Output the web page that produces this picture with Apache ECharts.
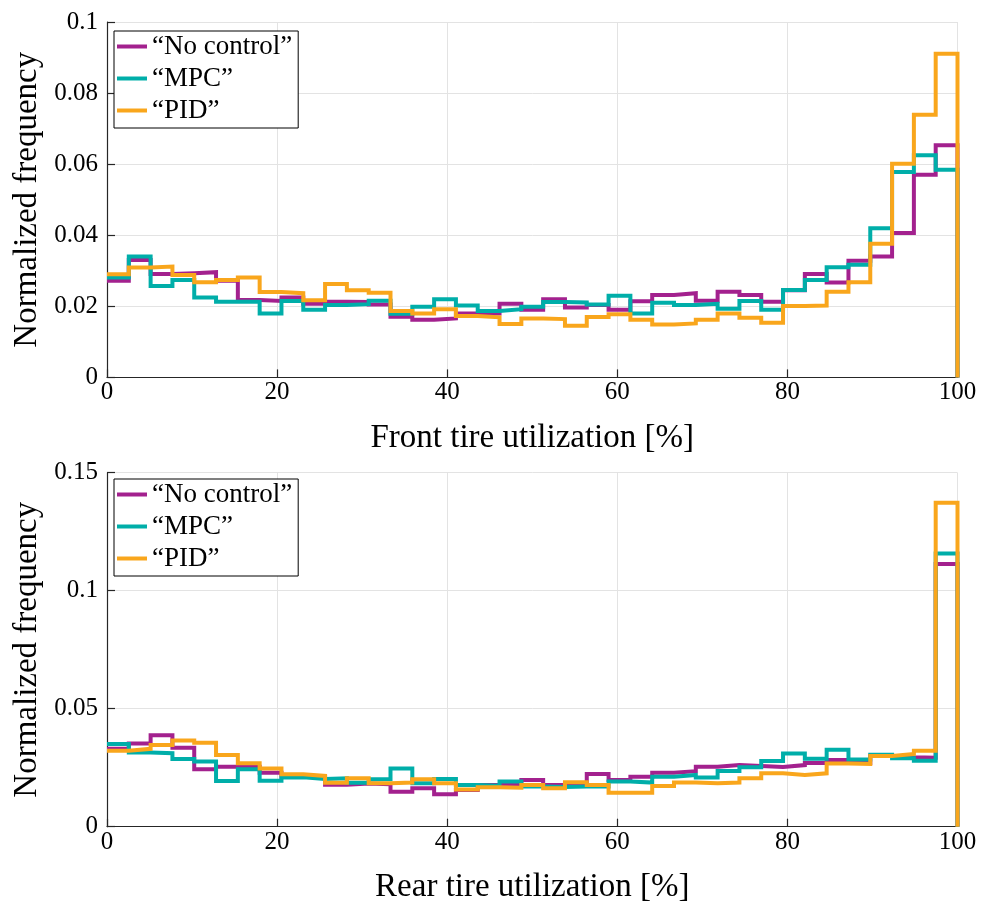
<!DOCTYPE html>
<html>
<head>
<meta charset="utf-8">
<script src="https://cdn.jsdelivr.net/npm/echarts@6/dist/echarts.min.js"></script>
<style>
  html, body { margin: 0; padding: 0; background: #fff; }
  #chart { width: 984px; height: 907px; }
</style>
</head>
<body>
<div id="chart"></div>
<script>
// ---- data (39 equal-width bins over 0..100 %) ----
const seriesNames = ['\u201CNo control\u201D', '\u201CMPC\u201D', '\u201CPID\u201D'];
const xTicks = [0, 20, 40, 60, 80, 100];
const frontTicks = [0, 0.02, 0.04, 0.06, 0.08, 0.1];
const rearTicks = [0, 0.05, 0.1, 0.15];

const frontNoControl = [0.0272,0.0330,0.0291,0.0293,0.0296,0.0272,0.0218,0.0215,0.0225,0.0207,
  0.0213,0.0212,0.0205,0.0171,0.0162,0.0166,0.0180,0.0180,0.0207,0.0190,
  0.0220,0.0197,0.0204,0.0190,0.0214,0.0232,0.0237,0.0216,0.0241,0.0232,
  0.0213,0.0245,0.0291,0.0267,0.0328,0.0340,0.0406,0.0570,0.0653];
const frontMPC = [0.0281,0.0340,0.0257,0.0274,0.0225,0.0213,0.0213,0.0180,0.0215,0.0190,
  0.0204,0.0206,0.0216,0.0179,0.0199,0.0220,0.0202,0.0187,0.0192,0.0199,
  0.0212,0.0211,0.0205,0.0230,0.0180,0.0210,0.0204,0.0207,0.0193,0.0215,
  0.0190,0.0246,0.0274,0.0310,0.0317,0.0420,0.0578,0.0625,0.0584];
const frontPID = [0.0290,0.0309,0.0312,0.0288,0.0268,0.0274,0.0281,0.0240,0.0237,0.0217,
  0.0263,0.0245,0.0238,0.0187,0.0180,0.0192,0.0173,0.0169,0.0150,0.0166,
  0.0164,0.0145,0.0170,0.0178,0.0162,0.0149,0.0152,0.0162,0.0180,0.0168,
  0.0154,0.0201,0.0202,0.0241,0.0268,0.0376,0.0601,0.0739,0.0911];

const rearNoControl = [0.0330,0.0353,0.0387,0.0335,0.0243,0.0254,0.0254,0.0229,0.0212,0.0210,
  0.0178,0.0183,0.0180,0.0148,0.0163,0.0137,0.0155,0.0177,0.0177,0.0198,
  0.0177,0.0174,0.0223,0.0198,0.0212,0.0229,0.0235,0.0254,0.0261,0.0257,
  0.0253,0.0261,0.0270,0.0283,0.0270,0.0301,0.0294,0.0292,0.1113];
const rearMPC = [0.0350,0.0314,0.0311,0.0287,0.0276,0.0194,0.0243,0.0195,0.0209,0.0202,
  0.0205,0.0186,0.0201,0.0247,0.0184,0.0202,0.0177,0.0174,0.0191,0.0170,
  0.0168,0.0170,0.0170,0.0191,0.0187,0.0212,0.0219,0.0208,0.0236,0.0252,
  0.0278,0.0310,0.0288,0.0326,0.0285,0.0305,0.0290,0.0279,0.1158];
const rearPID = [0.0322,0.0330,0.0346,0.0365,0.0356,0.0304,0.0269,0.0247,0.0222,0.0215,
  0.0186,0.0205,0.0184,0.0187,0.0201,0.0184,0.0158,0.0167,0.0165,0.0177,
  0.0163,0.0188,0.0177,0.0144,0.0144,0.0172,0.0187,0.0184,0.0187,0.0205,
  0.0226,0.0219,0.0226,0.0268,0.0266,0.0300,0.0308,0.0322,0.1373];

const colors = ['#a3218e', '#00aea9', '#f9a61c'];
const FONT = 'Liberation Serif';

// bin edges of the histogram (0..100 split into 39 bins)
const nBins = frontNoControl.length;
const edges = [];
for (let k = 0; k <= nBins; k++) edges.push(k * 100 / nBins);

function stairs(values) {
  const pts = values.map((v, k) => [edges[k], v]);
  pts.push([100, values[values.length - 1]]);
  pts.push([100, 0]);
  return pts;
}

function fmt(v) { return String(Math.round(v * 100) / 100); }

const axisColor = '#262626';
function xAxis(gridIndex, name) {
  return {
    type: 'value', gridIndex, min: 0, max: 100, interval: 20,
    name, nameLocation: 'middle', nameGap: 44,
    nameTextStyle: { fontFamily: FONT, fontSize: 33, color: '#000' },
    axisLine: { show: true, lineStyle: { color: axisColor, width: 1.2 } },
    axisTick: { show: true, inside: true, length: 8, lineStyle: { color: axisColor, width: 1.2 } },
    axisLabel: { fontFamily: FONT, fontSize: 25, color: '#000', margin: 3 },
    splitLine: { show: true, lineStyle: { color: '#e3e3e3', width: 1 } }
  };
}
function yAxis(gridIndex, max, interval) {
  return {
    type: 'value', gridIndex, min: 0, max, interval,
    name: 'Normalized frequency', nameLocation: 'middle', nameGap: 60,
    nameTextStyle: { fontFamily: FONT, fontSize: 33, color: '#000' },
    axisLine: { show: true, lineStyle: { color: axisColor, width: 1.2 } },
    axisTick: { show: true, inside: true, length: 8, lineStyle: { color: axisColor, width: 1.2 } },
    axisLabel: { fontFamily: FONT, fontSize: 25, color: '#000', margin: 9, formatter: fmt },
    splitLine: { show: true, lineStyle: { color: '#e3e3e3', width: 1 } }
  };
}

function line(name, values, idx, color) {
  return {
    name, type: 'line', xAxisIndex: idx, yAxisIndex: idx,
    step: 'end', symbol: 'none', showSymbol: false, clip: true,
    lineStyle: { color, width: 4, join: 'miter', cap: 'butt' },
    itemStyle: { color },
    data: stairs(values), animation: false
  };
}

function legend(top) {
  return {
    orient: 'vertical', left: 114, top,
    data: seriesNames,
    icon: 'rect', itemWidth: 30, itemHeight: 4, itemGap: 5,
    padding: [2, 6, 4, 3],
    backgroundColor: '#fff', borderColor: '#000', borderWidth: 1,
    textStyle: { fontFamily: FONT, fontSize: 27, color: '#000', lineHeight: 27 },
    selectedMode: false
  };
}

const chart = echarts.init(document.getElementById('chart'), null, { renderer: 'canvas' });
chart.setOption({
  animation: false,
  color: colors,
  grid: [
    { left: 107, right: 26.5, top: 22, height: 355.4 },
    { left: 107, right: 26.5, top: 472.7, height: 354 }
  ],
  xAxis: [xAxis(0, 'Front tire utilization [%]'), xAxis(1, 'Rear tire utilization [%]')],
  yAxis: [yAxis(0, 0.1, 0.02), yAxis(1, 0.15, 0.05)],
  legend: [legend(31), legend(479)],
  series: [
    line(seriesNames[0], frontNoControl, 0, colors[0]),
    line(seriesNames[1], frontMPC, 0, colors[1]),
    line(seriesNames[2], frontPID, 0, colors[2]),
    line(seriesNames[0], rearNoControl, 1, colors[0]),
    line(seriesNames[1], rearMPC, 1, colors[1]),
    line(seriesNames[2], rearPID, 1, colors[2])
  ]
});
</script>
</body>
</html>
